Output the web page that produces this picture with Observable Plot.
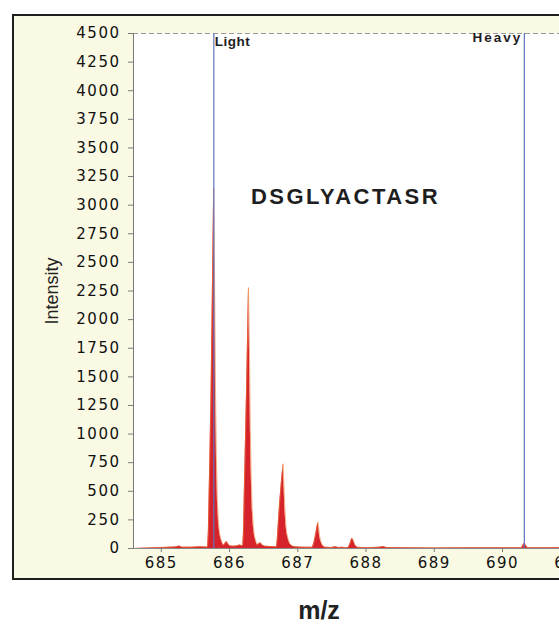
<!DOCTYPE html>
<html>
<head>
<meta charset="utf-8">
<script src="https://cdn.jsdelivr.net/npm/d3@7"></script>
<script src="https://cdn.jsdelivr.net/npm/@observablehq/plot@0.6"></script>
<style>
  html, body { margin: 0; padding: 0; background: #fff; overflow: hidden; width: 559px; height: 627px; }
  #frame { position: absolute; left: 12px; top: 14px; width: 640px; height: 562px;
           border: 2px solid #1e1e1e; background: #fafae4; }
  #chart { position: absolute; left: 0; top: 0; width: 640px; height: 580px; }
  #chart svg { max-width: none !important; width: 640px !important; height: 580px !important; }
  #xlabel { position: absolute; left: 269px; width: 100px; top: 598px; text-align: center;
            font: bold 25px "Liberation Sans", Arial, sans-serif; line-height: 25px; color: #222; }
  #chart g[aria-label="y-axis tick label"] text,
  #chart g[aria-label="x-axis tick label"] text { letter-spacing: 1.5px; }
</style>
</head>
<body>
<div id="frame"></div>
<div id="chart"></div>
<div id="xlabel">m/z</div>
<script>
// Tick values for both axes
const yTicks = [0, 250, 500, 750, 1000, 1250, 1500, 1750, 2000, 2250, 2500,
                2750, 3000, 3250, 3500, 3750, 4000, 4250, 4500];
const xTicks = [685, 686, 687, 688, 689, 690, 691];

// Baseline before the light isotope cluster: [m/z, intensity]
const baselineProfile = [
  [684.60, 0], [684.80, 5], [685.00, 8], [685.20, 14], [685.27, 22], [685.30, 12],
  [685.45, 12], [685.55, 16], [685.65, 14], [685.675, 12]
];

// Light-labelled isotope envelope (z = 2, spacing ~0.5)
const lightProfile = [
  // monoisotopic peak
  [685.680, 20], [685.690, 150], [685.700, 450], [685.712, 800], [685.728, 1300],
  [685.750, 2300], [685.768, 3150], [685.782, 2300], [685.795, 1400], [685.808, 800],
  [685.822, 420], [685.838, 230], [685.855, 130], [685.872, 85], [685.890, 55],
  [685.908, 28], [685.930, 40], [685.955, 62], [685.975, 45], [686.000, 25],
  [686.050, 20], [686.100, 22], [686.150, 30], [686.185, 25],
  // M+1
  [686.195, 30], [686.205, 150], [686.215, 450], [686.228, 800], [686.250, 1400],
  [686.278, 2280], [686.293, 1700], [686.305, 1050], [686.317, 650], [686.332, 350],
  [686.348, 200], [686.365, 110], [686.385, 65], [686.405, 30], [686.430, 42],
  [686.455, 50], [686.480, 30], [686.520, 20], [686.600, 18], [686.675, 15],
  // M+2
  [686.690, 15], [686.700, 80], [686.715, 220], [686.735, 400], [686.760, 580],
  [686.785, 740], [686.797, 560], [686.810, 360], [686.825, 210], [686.840, 130],
  [686.860, 80], [686.880, 45], [686.910, 25], [686.950, 15], [687.050, 12],
  [687.150, 10],
  // M+3
  [687.215, 10], [687.235, 45], [687.255, 100], [687.275, 165], [687.295, 230],
  [687.306, 190], [687.318, 115], [687.333, 70], [687.352, 40], [687.372, 20],
  [687.400, 10], [687.500, 8], [687.550, 15], [687.600, 8], [687.650, 12],
  [687.700, 6],
  // M+4
  [687.740, 8], [687.765, 40], [687.785, 78], [687.800, 90], [687.815, 70],
  [687.840, 30], [687.870, 10], [688.000, 6], [688.200, 12], [688.250, 18],
  [688.300, 8], [688.600, 6], [689.000, 5], [689.500, 6], [690.000, 6], [690.250, 6]
];

// Heavy-labelled channel (barely above baseline)
const heavyProfile = [
  [690.280, 6], [690.300, 28], [690.320, 45], [690.340, 30], [690.370, 6],
  [690.700, 6], [691.000, 8], [691.400, 6], [691.729, 5]
];

// Extracted-ion windows and the peptide annotation
const channels = [
  { label: "Light", mz: 685.77 },
  { label: "Heavy", mz: 690.32 }
];
const peptide = [{ label: "DSGLYACTASR", mz: 687.70, intensity: 3075 }];

const spectrum = [...baselineProfile, ...lightProfile, ...heavyProfile];
const xDomain = [684.593, 691.729];
const tickFont = "'DejaVu Sans', sans-serif";
const labelFont = "'Liberation Sans', Arial, sans-serif";

const chart = Plot.plot({
  width: 640,
  height: 580,
  marginLeft: 133,
  marginRight: 20,
  marginTop: 33,
  marginBottom: 32,
  style: { background: "transparent", overflow: "visible" },
  x: { domain: xDomain },
  y: { domain: [0, 4500] },
  marks: [
    Plot.frame({ fill: "white", stroke: "none" }),
    Plot.ruleY([4500], { stroke: "#9a9a9a", strokeDasharray: "5,3" }),
    Plot.areaY(spectrum, { x: d => d[0], y: d => d[1], fill: "#d6232b", curve: "linear" }),
    Plot.lineY(spectrum, { x: d => d[0], y: d => d[1], stroke: "#ef7f3a", strokeWidth: 0.6 }),
    Plot.ruleX(channels, { x: "mz", stroke: "#6073bb", strokeWidth: 1.2 }),
    Plot.text(channels.slice(0, 1), {
      x: "mz", text: "label", frameAnchor: "top", dy: 3, dx: 1, textAnchor: "start",
      fontSize: 13.5, fontWeight: "bold", fill: "#1e1e1e", fontFamily: labelFont
    }),
    Plot.text(channels.slice(1), {
      x: "mz", text: "label", frameAnchor: "top", dy: -1, dx: -2, textAnchor: "end",
      fontSize: 13.5, fontWeight: "bold", fill: "#1e1e1e", fontFamily: labelFont
    }),
    Plot.text(peptide, {
      x: "mz", y: "intensity", text: "label", fontSize: 22, fontWeight: "bold",
      fill: "#1e1e1e", fontFamily: labelFont
    }),
    Plot.ruleX([xDomain[0]], { stroke: "#7a7a7a" }),
    Plot.ruleY([0], { stroke: "#8a8a8a" }),
    Plot.axisY(yTicks, {
      tickSize: 5, tickPadding: 8, stroke: "#7a7a7a", fill: "#111", label: null,
      fontSize: 15, fontFamily: tickFont, tickFormat: d => String(d)
    }),
    Plot.axisX(xTicks, {
      tickSize: 4, tickPadding: 5, stroke: "#7a7a7a", fill: "#111", label: null,
      fontSize: 15, fontFamily: tickFont, tickFormat: d => String(d)
    }),
    Plot.text(["Intensity"], {
      text: d => d, frameAnchor: "left", textAnchor: "middle", dx: -81, rotate: -90,
      fontSize: 18, fill: "#222",
      fontFamily: "'Liberation Sans Narrow', 'Liberation Sans', Arial, sans-serif"
    })
  ]
});

// Wider tracking for the annotation labels
const tracking = { "DSGLYACTASR": "2.5px", "Light": "0.5px", "Heavy": "2px" };
d3.select(chart).selectAll("text")
  .filter(function () { return this.textContent in tracking; })
  .style("letter-spacing", function () { return tracking[this.textContent]; });

document.getElementById("chart").appendChild(chart);
</script>
</body>
</html>
